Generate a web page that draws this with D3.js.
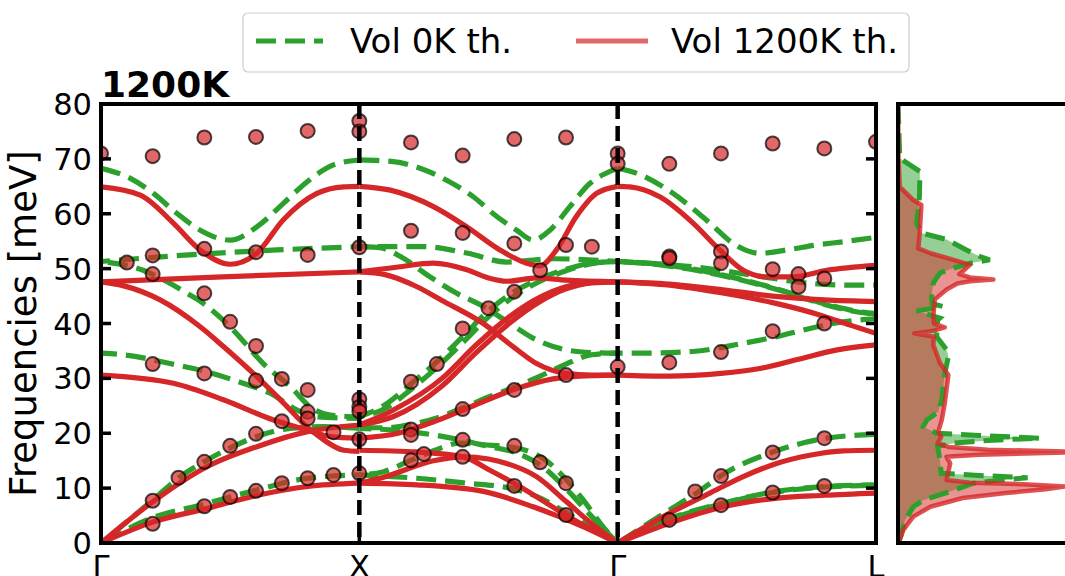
<!DOCTYPE html>
<html><head><meta charset="utf-8">
<script src="https://cdn.jsdelivr.net/npm/d3@7"></script>
<style>body{margin:0;background:#fff} text{font-family:"DejaVu Sans",sans-serif;fill:#000}</style>
</head><body><svg id="c" width="1065" height="576"></svg>
<script>
// ---------- data ----------
const kLabels = ["Γ","X","Γ","L"];
const kPos = [0,1,2,3];
const yTicks = [0,10,20,30,40,50,60,70,80];
const legendLabels = ["Vol 0K th.","Vol 1200K th."];
const title = "1200K";

// branches: [t within segment, frequency meV]
const green_GX = [
  [[0,68.3],[0.112,66.5],[0.203,63.7],[0.293,60.1],[0.384,57.0],[0.5,55.2],[0.603,57.6],[0.706,61.9],[0.797,65.8],[0.9,68.9],[1,69.8]],
  [[0,51.3],[0.34,52.5],[0.68,53.4],[1,54.0]],
  [[0,51.3],[0.163,49.7],[0.256,47.6],[0.333,45.5],[0.395,43.7],[0.473,40.6],[0.512,38.8],[0.628,32.7],[0.733,28.5],[0.81,24.8],[0.888,23.3],[1,23.0]],
  [[0,34.6],[0.087,34.3],[0.267,32.7],[0.41,31.2],[0.55,29.1],[0.655,27.3],[0.76,24.2],[0.837,23.0],[1,22.7]],
  [[0,0],[0.2,7.8],[0.307,12.1],[0.41,15.1],[0.512,17.6],[0.603,19.4],[0.733,20.9],[0.86,21.2],[1,20.9]],
  [[0,0],[0.2,4.6],[0.41,7.2],[0.606,9.7],[0.8,11.8],[1,12.4]]
];
const green_XG = [
  [[0,69.8],[0.132,69.5],[0.235,68.3],[0.338,66.1],[0.441,63.1],[0.532,59.5],[0.609,57.0],[0.673,55.2],[0.738,57.0],[0.815,61.3],[0.892,65.5],[0.969,67.7],[1,68.3]],
  [[0,54.0],[0.25,54.0],[0.42,52.8],[0.57,51.2],[0.75,51.8],[1,51.3]],
  [[0,54.0],[0.08,53.8],[0.159,52.2],[0.274,48.5],[0.377,45.5],[0.48,43.1],[0.583,40.0],[0.686,37.0],[0.8,35.2],[0.9,34.7],[1,34.6]],
  [[0,23.0],[0.1,25.2],[0.2,29.0],[0.3,33.0],[0.4,37.6],[0.5,42.3],[0.6,45.8],[0.7,48.2],[0.8,49.9],[0.9,51.0],[1,51.3]],
  [[0,23.0],[0.1,24.5],[0.2,28.0],[0.3,32.0],[0.4,36.5],[0.5,41.2],[0.6,45.0],[0.7,47.7],[0.8,49.6],[0.9,50.9],[1,51.3]],
  [[0,21.0],[0.1,21.0],[0.2,21.6],[0.3,22.8],[0.4,24.6],[0.5,26.6],[0.6,28.4],[0.7,30.4],[0.8,32.6],[0.9,34.3],[1,34.6]],
  [[0,20.9],[0.15,20.5],[0.3,19.6],[0.4,18.7],[0.5,17.6],[0.609,16.4],[0.712,13.8],[0.802,9.8],[0.9,4.8],[1,0]],
  [[0,12.4],[0.094,13.0],[0.197,15.0],[0.287,16.8],[0.39,18.2],[0.48,17.9],[0.609,17.3],[0.712,15.4],[0.802,11.5],[0.866,7.9],[0.943,3.0],[1,0]],
  [[0,12.4],[0.223,11.8],[0.416,10.9],[0.583,10.0],[0.686,8.5],[0.802,5.5],[0.931,1.8],[1,0]]
];
const green_GL = [
  [[0,68.3],[0.072,67.4],[0.176,64.9],[0.266,61.9],[0.357,58.3],[0.447,54.6],[0.55,52.8],[0.654,53.4],[0.77,54.3],[0.873,54.9],[1,55.7]],
  [[0,51.3],[0.178,50.7],[0.437,48.5],[0.63,46.1],[0.8,43.6],[0.942,42.1],[1,41.8]],
  [[0,51.3],[0.178,50.6],[0.437,48.4],[0.63,46.0],[0.8,43.5],[0.942,42.0],[1,41.7]],
  [[0,51.3],[0.3,50.3],[0.55,48.6],[0.75,47.3],[0.9,47.0],[1,47.0]],
  [[0,34.6],[0.1,34.6],[0.29,34.9],[0.486,36.4],[0.615,37.6],[0.744,39.1],[0.873,40.3],[1,40.9]],
  [[0,0],[0.2,6.0],[0.305,9.1],[0.408,12.5],[0.602,16.6],[0.809,19.1],[1,19.8]],
  [[0,0],[0.2,4.4],[0.41,7.3],[0.6,9.3],[0.8,10.3],[1,10.6]],
  [[0,0],[0.2,4.3],[0.41,7.2],[0.6,9.2],[0.8,10.2],[1,10.5]]
];
const red_GX = [
  [[0,64.9],[0.152,63.4],[0.28,58.3],[0.384,53.4],[0.5,50.8],[0.603,52.8],[0.706,58.9],[0.836,63.7],[0.94,64.9],[1,65.0]],
  [[0,47.6],[0.47,48.5],[1,49.4]],
  [[0,47.6],[0.085,46.9],[0.229,44.3],[0.384,39.4],[0.474,35.8],[0.603,30.3],[0.707,25.5],[0.797,21.2],[0.862,18.8],[0.94,16.9],[1,16.7]],
  [[0,30.6],[0.28,29.1],[0.474,26.1],[0.668,22.4],[0.797,20.6],[0.888,19.4],[1,19.1]],
  [[0,0],[0.2,7.5],[0.41,13.9],[0.606,17.6],[0.8,20.3],[1,21.5]],
  [[0,0],[0.2,3.8],[0.41,6.3],[0.606,8.7],[0.8,10.3],[1,10.9]]
];
const red_XG = [
  [[0,65.0],[0.12,64.3],[0.287,61.3],[0.416,57.6],[0.544,53.4],[0.647,51.0],[0.699,50.5],[0.763,53.4],[0.84,59.5],[0.918,63.7],[1,65.0]],
  [[0,49.4],[0.15,50.3],[0.287,51.0],[0.416,49.8],[0.5,48.3],[0.57,47.7],[0.686,48.3],[0.8,47.9],[1,47.6]],
  [[0,49.4],[0.1,48.9],[0.223,46.7],[0.32,44.2],[0.48,40.0],[0.6,35.6],[0.686,32.7],[0.8,30.9],[0.9,30.6],[1,30.6]],
  [[0,21.5],[0.13,24.2],[0.32,30.0],[0.45,36.0],[0.58,41.2],[0.7,44.8],[0.8,46.7],[0.9,47.5],[1,47.6]],
  [[0,21.5],[0.13,23.0],[0.32,28.6],[0.45,34.6],[0.58,40.0],[0.7,44.0],[0.8,46.3],[0.9,47.4],[1,47.6]],
  [[0,19.1],[0.15,20.0],[0.3,22.3],[0.45,25.2],[0.6,28.0],[0.75,29.9],[0.9,30.5],[1,30.6]],
  [[0,16.9],[0.223,16.6],[0.403,15.7],[0.5,13.4],[0.609,10.6],[0.7,8.0],[0.802,5.0],[0.9,2.4],[1,0]],
  [[0,10.9],[0.094,12.0],[0.287,15.0],[0.403,15.7],[0.5,15.3],[0.57,14.5],[0.686,12.1],[0.802,7.5],[0.9,3.5],[1,0]],
  [[0,10.9],[0.223,10.6],[0.48,9.4],[0.673,6.6],[0.866,3.0],[1,0]]
];
const red_GL = [
  [[0,65.0],[0.047,64.9],[0.163,63.1],[0.292,58.3],[0.395,53.4],[0.486,49.7],[0.576,48.5],[0.68,48.5],[0.809,49.7],[1,50.6]],
  [[0,47.6],[0.2,47.2],[0.4,46.2],[0.6,45.0],[0.8,44.3],[1,44.0]],
  [[0,47.6],[0.2,47.0],[0.4,45.6],[0.6,43.8],[0.8,41.3],[0.9,39.7],[1,38.2]],
  [[0,30.6],[0.2,30.4],[0.4,30.9],[0.55,31.8],[0.7,33.5],[0.85,35.2],[1,36.1]],
  [[0,0],[0.2,5.4],[0.357,9.1],[0.486,12.1],[0.615,14.5],[0.744,16.0],[0.873,16.8],[1,16.9]],
  [[0,0],[0.2,3.6],[0.41,6.6],[0.6,8.1],[0.8,8.7],[1,9.1]]
];

// experimental points (path position, frequency)
const expPos = [
  0,0.1,0.2,0.2,0.2,0.2,0.2,0.2,0.3,0.4,0.4,0.4,0.4,0.4,0.4,0.5,0.5,0.5,
  0.6,0.6,0.6,0.6,0.6,0.6,0.7,0.7,0.7,0.8,0.8,0.8,0.8,0.8,0.8,0.9,0.9,
  1,1,1,1,1,1,1,1,
  1.2,1.2,1.2,1.2,1.2,1.2,1.25,1.3,1.4,1.4,1.4,1.4,1.4,1.4,1.5,
  1.6,1.6,1.6,1.6,1.6,1.6,1.7,1.7,1.8,1.8,1.8,1.8,1.8,1.9,2,2,2,
  2.2,2.2,2.2,2.2,2.2,2.3,2.4,2.4,2.4,2.4,2.4,2.4,2.6,2.6,2.6,2.6,2.6,
  2.7,2.7,2.8,2.8,2.8,2.8,2.8,3
];
const expFreq = [
  71.0,51.1,70.5,52.4,49.0,32.6,7.7,3.5,11.9,73.9,53.6,45.5,30.9,14.8,6.7,40.3,17.7,8.4,
  74.0,53.0,35.9,29.6,19.9,9.5,29.9,22.2,10.9,75.1,52.5,27.9,23.9,22.7,11.8,20.2,12.4,
  76.9,75.0,53.9,26.2,24.8,24.0,18.9,12.7,
  73.0,56.9,29.4,20.7,19.7,15.1,16.2,32.6,70.6,56.5,39.1,24.4,18.8,15.7,42.8,
  73.6,54.6,45.8,27.9,17.7,10.4,49.7,14.7,73.9,54.3,30.6,10.9,5.1,54.0,71.0,69.1,32.1,
  69.1,52.2,51.9,32.9,4.2,9.4,71.0,53.1,51.0,34.8,12.2,6.9,72.8,49.9,38.6,16.5,9.2,
  49.0,46.7,71.9,48.2,40.0,19.1,10.4,73.1
];

// phonon DOS (frequency meV, density arb. units)
const dosFreq0K = [0,1.2,4.2,6.6,7.8,9.6,10.9,11.4,11.9,12.3,12.7,15.1,17.6,18.2,18.7,19.1,19.6,20.0,21.2,22.4,23.9,26.1,30.9,34.0,35.2,37.6,40.6,41.0,42.3,42.8,43.1,43.6,45.0,47.4,49.2,50.1,51.0,51.6,52.2,53.4,55.3,56.5,58.3,63.1,67.7,70.1,75,80];
const dos0K     = [0,0.015,0.04,0.085,0.14,0.31,0.42,0.55,0.72,0.45,0.24,0.233,0.22,0.31,0.5,0.79,0.45,0.215,0.14,0.16,0.224,0.243,0.26,0.28,0.27,0.215,0.22,0.233,0.104,0.2,0.25,0.19,0.187,0.196,0.233,0.31,0.40,0.51,0.456,0.38,0.27,0.13,0.104,0.119,0.122,0.01,0.005,0];
const dosFreq1200K = [0,0.6,2.4,4.8,6.6,8.2,9.1,9.8,10.3,10.7,11.0,11.5,13.0,14.5,15.7,16.1,16.6,17.0,17.5,18.2,19.3,20.3,22.4,25.5,30.6,32.8,36.1,37.6,38.2,38.7,39.3,40.0,41.3,44.4,46.2,47.3,47.7,48.0,48.4,49.0,49.5,50.7,51.6,52.8,53.7,57.0,61.6,62.5,64.9,70,80];
const dos1200K     = [0,0.01,0.03,0.085,0.18,0.36,0.6,0.82,0.93,0.7,0.4,0.27,0.28,0.29,0.27,0.45,1.05,0.5,0.28,0.22,0.24,0.224,0.243,0.26,0.28,0.233,0.196,0.2,0.09,0.2,0.26,0.2,0.196,0.205,0.27,0.33,0.4,0.53,0.4,0.34,0.36,0.4,0.31,0.18,0.113,0.122,0.13,0.085,0.01,0.003,0];

// ---------- drawing ----------
const GREEN = "#2ca02c", RED = "#d62728";
const svg = d3.select("#c");
const L = 101, R = 876, T = 104, B = 543;
const x = d3.scaleLinear().domain([0,3]).range([L,R]);
const y = d3.scaleLinear().domain([0,80]).range([B,T]);
const xd = d3.scaleLinear().domain([0,1]).range([898,1078]);

const defs = svg.append("defs");
defs.append("clipPath").attr("id","clipMain").append("rect").attr("x",L).attr("y",T).attr("width",R-L).attr("height",B-T);
defs.append("clipPath").attr("id","clipDos").append("rect").attr("x",898).attr("y",T).attr("width",200).attr("height",B-T);

const main = svg.append("g").attr("clip-path","url(#clipMain)");
const line = d3.line().x(d=>d[0]).y(d=>d[1]).curve(d3.curveMonotoneX);

function drawSet(sets, color, dashed){
  sets.forEach((branches, s) => {
    branches.forEach((br, i) => {
      const pts = br.map(p => [x(s + p[0]), y(p[1])]);
      const p = main.append("path").attr("d", line(pts))
        .attr("fill","none").attr("stroke",color).attr("stroke-width",5.2)
        .attr("stroke-linecap","butt");
      if (dashed) p.attr("stroke-dasharray","20,9").attr("stroke-dashoffset", (i*11)%29);
    });
  });
}
drawSet([green_GX, green_XG, green_GL], GREEN, true);
drawSet([red_GX, red_XG, red_GL], RED, false);

// vertical high-symmetry lines
[1,2].forEach(k => {
  svg.append("line").attr("x1",x(k)).attr("x2",x(k)).attr("y1",T).attr("y2",B)
    .attr("stroke","#000").attr("stroke-width",4.5).attr("stroke-dasharray","15,7");
});

// experimental points
main.selectAll("circle.exp").data(expPos.map((p,i)=>[p,expFreq[i]])).enter().append("circle")
  .attr("cx",d=>x(d[0])).attr("cy",d=>y(d[1])).attr("r",7)
  .attr("fill",RED).attr("fill-opacity",0.7)
  .attr("stroke","#000").attr("stroke-opacity",0.7).attr("stroke-width",2);

// frame
svg.append("rect").attr("x",L).attr("y",T).attr("width",R-L).attr("height",B-T)
  .attr("fill","none").attr("stroke","#000").attr("stroke-width",4);

// y ticks (inward both sides)
yTicks.forEach(v => {
  svg.append("line").attr("x1",L).attr("x2",L+10).attr("y1",y(v)).attr("y2",y(v)).attr("stroke","#000").attr("stroke-width",3.5);
  svg.append("line").attr("x1",R-10).attr("x2",R).attr("y1",y(v)).attr("y2",y(v)).attr("stroke","#000").attr("stroke-width",3.5);
  svg.append("text").attr("x",92).attr("y",y(v)+11).attr("text-anchor","end")
    .style("font-size","30.5px").text(v);
});
// x ticks + labels (cut by the bottom edge, as in the original figure)
kPos.forEach((k,i) => {
  svg.append("line").attr("x1",x(k)).attr("x2",x(k)).attr("y1",B).attr("y2",B-10).attr("stroke","#000").attr("stroke-width",3.5);
  svg.append("text").attr("x",x(k)).attr("y",577).attr("text-anchor","middle")
    .style("font-size","30.5px").text(kLabels[i]);
});

// y label
svg.append("text").attr("transform",`translate(36,${(T+B)/2}) rotate(-90)`)
  .attr("text-anchor","middle").style("font-size","37px").text("Frequencies [meV]");
// title
svg.append("text").attr("x",L).attr("y",97).style("font-size","36px").style("font-weight","bold").text(title);

// ---------- DOS panel ----------
const dos = svg.append("g").attr("clip-path","url(#clipDos)");
const area = d3.area().y(d=>y(d[0])).x0(xd(0)).x1(d=>xd(d[1])).curve(d3.curveLinear);
const dline = d3.line().y(d=>y(d[0])).x(d=>xd(d[1])).curve(d3.curveLinear);
const g0 = dosFreq0K.map((f,i)=>[f,dos0K[i]]);
const g1 = dosFreq1200K.map((f,i)=>[f,dos1200K[i]]);
dos.append("path").attr("d",area(g0)).attr("fill",GREEN).attr("fill-opacity",0.5);
dos.append("path").attr("d",area(g1)).attr("fill",RED).attr("fill-opacity",0.5);
dos.append("path").attr("d",dline(g0)).attr("fill","none").attr("stroke",GREEN).attr("stroke-width",5)
  .attr("stroke-dasharray","20,9");
dos.append("path").attr("d",dline(g1)).attr("fill","none").attr("stroke",RED).attr("stroke-opacity",0.8).attr("stroke-width",4.5)
  .attr("stroke-linejoin","round");
svg.append("rect").attr("x",898).attr("y",T).attr("width",300).attr("height",B-T)
  .attr("fill","none").attr("stroke","#000").attr("stroke-width",4);

// ---------- legend ----------
const lg = svg.append("g");
lg.append("rect").attr("x",243).attr("y",13).attr("width",666).attr("height",59).attr("rx",5)
  .attr("fill","#fff").attr("fill-opacity",0.8).attr("stroke","#cccccc").attr("stroke-width",1.2);
lg.append("line").attr("x1",256).attr("x2",323).attr("y1",41).attr("y2",41)
  .attr("stroke",GREEN).attr("stroke-width",5.2).attr("stroke-dasharray","20,9");
lg.append("text").attr("x",350).attr("y",53).style("font-size","34px").text(legendLabels[0]);
lg.append("line").attr("x1",576).attr("x2",648).attr("y1",41).attr("y2",41)
  .attr("stroke",RED).attr("stroke-opacity",0.7).attr("stroke-width",5.2);
lg.append("text").attr("x",671).attr("y",53).style("font-size","34px").text(legendLabels[1]);
</script></body></html>
